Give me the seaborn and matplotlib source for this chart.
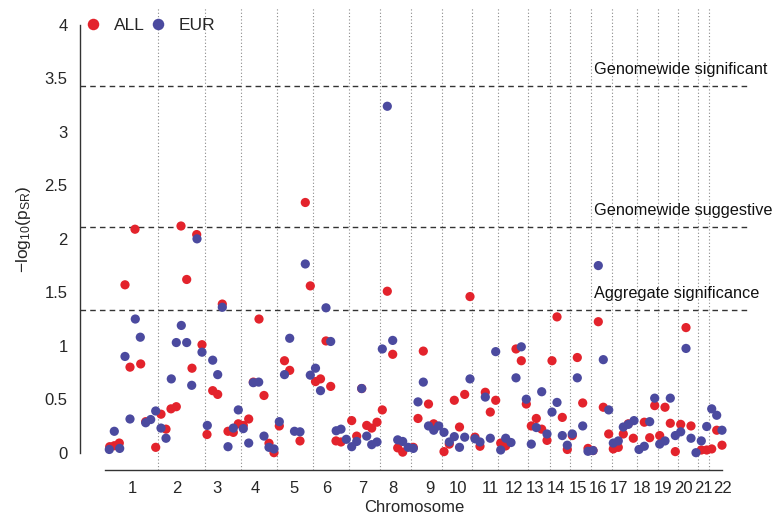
import numpy as np
import pandas as pd
import matplotlib
matplotlib.use("Agg")
import matplotlib.pyplot as plt
import seaborn as sns

# chromosome layout along the genome axis (cumulative position units)
chromosomes = [str(i) for i in range(1, 23)]
chrom_label_pos = [132, 177, 217, 255, 294, 327, 363, 393, 430, 458, 490,
                   514, 535, 556, 578, 598, 619, 642, 663, 683, 703, 723]
chrom_bounds = [158, 205, 241, 277, 313, 349, 380, 411, 442, 472, 498,
                528, 550, 570, 591, 612, 637, 658, 678, 698, 709]

# ALL ancestry
all_pos = [109.7, 114.3, 119.3, 125, 130, 135, 140.7, 145.7, 155.7,
           161, 166, 171, 176.3, 181, 186.7, 192, 196.7, 202,
           207, 212.7, 217.7, 222.3, 228, 233.3, 238.3,
           243.3, 248.7, 253.3, 259, 264, 269, 274,
           279.3, 284.5, 289.7, 300, 305.3, 310.3,
           315.5, 320.5, 326, 330.7, 336, 341,
           351.7, 356.7, 361.7, 366.7, 371.7, 377,
           382.3, 387.3, 392.7, 397.7, 402.7, 413.3,
           418, 423.3, 428.5, 433.7,
           444, 449.3, 454.3, 459.5, 464.7, 470,
           475, 480, 485.3, 490.3, 495.7,
           500.7, 505.7, 516, 521.3, 526.3,
           531.3, 536.3, 541.7, 547,
           552, 557, 562.3, 567.3,
           572.3, 577.3, 582.7, 588,
           593, 598.3, 603.3, 608.7,
           613.3, 618.3, 623.3, 628.3, 633.3,
           644.3, 649.7,
           654.7, 659.7, 665, 670.3, 675.3,
           680.7, 686, 691,
           701.3, 706.7,
           711.7, 716.7, 722]
all_val = [0.056, 0.065, 0.09, 1.57, 0.80, 2.09, 0.83, 0.29, 0.05,
           0.36, 0.22, 0.41, 0.43, 2.12, 1.62, 0.79, 2.04, 1.01,
           0.17, 0.58, 0.545, 1.39, 0.20, 0.19, 0.27,
           0.255, 0.315, 0.66, 1.25, 0.535, 0.088, 0.00,
           0.25, 0.86, 0.77, 0.11, 2.34, 1.56,
           0.665, 0.69, 1.045, 0.62, 0.11, 0.10,
           0.30, 0.155, 0.60, 0.255, 0.23, 0.285,
           0.40, 1.51, 0.92, 0.045, 0.005, 0.05,
           0.32, 0.95, 0.455, 0.27,
           0.01, 0.08, 0.49, 0.24, 0.545, 1.46,
           0.145, 0.06, 0.565, 0.38, 0.49,
           0.09, 0.063, 0.97, 0.86, 0.455,
           0.25, 0.32, 0.22, 0.115,
           0.86, 1.27, 0.33, 0.03,
           0.16, 0.89, 0.465, 0.04,
           0.02, 1.225, 0.425, 0.175,
           0.035, 0.05, 0.175, 0.27, 0.135,
           0.285, 0.14,
           0.44, 0.16, 0.425, 0.275, 0.01,
           0.265, 1.17, 0.25,
           0.025, 0.025,
           0.035, 0.21, 0.07]

# European ancestry
eur_pos = [109.3, 114.3, 119.7, 125, 130, 135.3, 140.3, 145.7, 150.7, 155.7,
           161, 166, 171.3, 176.3, 181.3, 186.7, 191.7, 197, 202,
           207.3, 212.7, 217.7, 222.3, 228, 233.3, 238.3,
           243.3, 248.7, 253.3, 258.7, 264, 269, 274,
           279.3, 284.5, 289.7, 294.5, 300, 305.3,
           310.3, 315.5, 320.5, 326, 330.7, 336.2, 341, 346.3,
           351.7, 356.7, 361.7, 366.7, 371.7, 377,
           382.3, 387.3, 392.7, 397.7, 402.7, 408.2, 413.3,
           418, 423.3, 428.5, 433.7, 438.7,
           444, 449.3, 454.3, 459.5, 464.7, 470,
           475, 480, 485.3, 490.3, 495.7,
           500.7, 505.7, 511, 516, 521.3, 526.3,
           531.3, 536.3, 541.7, 547,
           552, 557, 562.3, 567.3,
           572.3, 577.3, 582.7, 588,
           593, 598.3, 603.3, 608.7,
           613.3, 618.3, 623.3, 628.3, 634,
           639, 644.3, 649.7,
           654.7, 659.7, 665, 670.3, 675.3,
           680.7, 686, 691, 696,
           701.3, 706.7,
           711.7, 716.7, 722]
eur_val = [0.03, 0.20, 0.04, 0.90, 0.315, 1.25, 1.08, 0.28, 0.31, 0.39,
           0.23, 0.135, 0.69, 1.03, 1.19, 1.03, 0.63, 2.00, 0.94,
           0.255, 0.865, 0.73, 1.36, 0.056, 0.23, 0.40,
           0.225, 0.09, 0.655, 0.66, 0.155, 0.05, 0.035,
           0.29, 0.73, 1.07, 0.20, 0.195, 1.765,
           0.725, 0.79, 0.58, 1.355, 1.04, 0.205, 0.22, 0.125,
           0.056, 0.105, 0.60, 0.155, 0.075, 0.10,
           0.97, 3.24, 1.05, 0.12, 0.105, 0.05, 0.04,
           0.475, 0.66, 0.25, 0.21, 0.25,
           0.19, 0.10, 0.15, 0.05, 0.145, 0.69,
           0.13, 0.10, 0.52, 0.135, 0.945,
           0.025, 0.135, 0.095, 0.70, 0.99, 0.50,
           0.08, 0.235, 0.57, 0.175,
           0.38, 0.47, 0.16, 0.07,
           0.175, 0.70, 0.25, 0.013,
           0.02, 1.75, 0.87, 0.40,
           0.09, 0.11, 0.24, 0.265, 0.30,
           0.03, 0.06, 0.29,
           0.51, 0.08, 0.11, 0.51, 0.16,
           0.195, 0.975, 0.135, 0.0,
           0.11, 0.245,
           0.41, 0.35, 0.21]

thresholds = [3.43, 2.11, 1.335]
threshold_labels = ["Genomewide significant", "Genomewide suggestive",
                    "Aggregate significance"]

df = pd.concat([
    pd.DataFrame({"pos": all_pos, "val": all_val, "pop": "ALL"}),
    pd.DataFrame({"pos": eur_pos, "val": eur_val, "pop": "EUR"}),
], ignore_index=True)

sns.set_style("white")
plt.rcParams["font.family"] = ["Liberation Sans", "DejaVu Sans"]
plt.rcParams["mathtext.default"] = "regular"

fig = plt.figure(figsize=(7.73, 5.15), dpi=100)
ax = fig.add_axes([80 / 773, 45 / 515, 668 / 773, 462 / 515])

for b in chrom_bounds:
    ax.axvline(b, color="#8a8a8a", linestyle=(0, (1, 2)), linewidth=0.8, zorder=0)

for t, lab in zip(thresholds, threshold_labels):
    ax.axhline(t, color="#333333", linestyle=(0, (4, 3)), linewidth=1.0, zorder=1)
    ax.text(594, t + 0.155, lab, fontsize=11.7, va="center", ha="left", color="#111111")

sns.scatterplot(
    data=df,
    x="pos",
    y="val",
    hue="pop",
    hue_order=["ALL", "EUR"],
    palette={"ALL": "#e3232c", "EUR": "#4b4a9f"},
    s=44,
    edgecolor="none",
    ax=ax,
    zorder=3,
)

ax.set_xlim(80, 748)
ax.set_ylim(-0.162, 4.159)

ax.set_yticks(np.arange(0, 4.01, 0.5))
ax.set_yticklabels(["0", "0.5", "1", "1.5", "2", "2.5", "3", "3.5", "4"])
ax.set_xticks(chrom_label_pos)
ax.set_xticklabels(chromosomes)

for side in ["top", "right"]:
    ax.spines[side].set_visible(False)
ax.spines["left"].set_bounds(0, 4)
ax.spines["bottom"].set_bounds(105, 722)
ax.spines["left"].set_color("#333333")
ax.spines["bottom"].set_color("#333333")
ax.spines["left"].set_linewidth(1.0)
ax.spines["bottom"].set_linewidth(1.0)

ax.tick_params(axis="y", length=6, width=1.0, color="#333333", labelsize=12, pad=3)
ax.tick_params(axis="x", length=0, labelsize=12, pad=8)

ax.set_xlabel("Chromosome", fontsize=12)
ax.xaxis.set_label_coords(0.5, -0.065)
ax.set_ylabel("\u2212log$_{10}$(p$_{SR}$)", fontsize=12.5)
ax.yaxis.set_label_coords(-0.07, 0.52)

handles, labels = ax.get_legend_handles_labels()
ax.legend(
    handles,
    labels,
    loc="center left",
    bbox_to_anchor=(0.006, 0.963),
    ncol=2,
    frameon=False,
    fontsize=12.5,
    markerscale=1.25,
    handlelength=1.0,
    handletextpad=0.7,
    columnspacing=0.3,
    borderpad=0,
    borderaxespad=0,
)

plt.savefig("out.png", dpi=100)
